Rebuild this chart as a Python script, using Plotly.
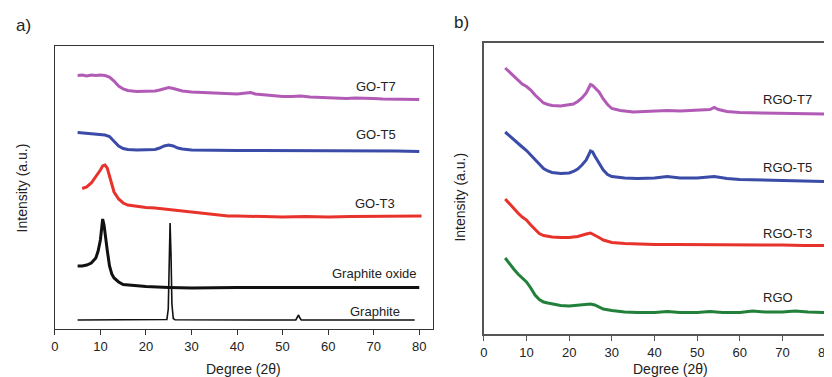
import plotly.graph_objects as go

# ---------------- Panel a (GO series) ----------------
got7_x = [5, 6, 7, 8, 9, 10, 11, 12, 13, 14, 15, 16, 18, 20, 22, 23, 24, 25, 26, 27, 28, 30, 32, 35, 38, 40,
          42, 43, 44, 46, 48, 50, 52, 54, 56, 58, 60, 62, 64, 66, 68, 70, 72, 74, 76, 78, 80]
got7_y = [253.5, 254, 253, 254, 253.5, 254, 253.5, 252, 248, 243, 240, 238.5, 237.5, 237.5, 238, 239, 240.5,
          241.5, 240.5, 239, 238, 237, 236.5, 236, 235.5, 235, 236, 236.5, 235, 234, 233, 232.5, 232.5, 233,
          232, 231.5, 231, 230.5, 230.5, 231, 231, 230.5, 230, 230, 230, 229.5, 229.5]

got5_x = [5, 6, 7, 8, 9, 10, 11, 12, 13, 14, 15, 16, 18, 20, 22, 23, 24, 25, 26, 27, 28, 30, 35, 40, 45, 50,
          55, 60, 65, 70, 75, 80]
got5_y = [196.5, 196, 195.5, 195, 195, 194.5, 194, 192.5, 188, 183, 180.5, 179.5, 179, 179, 179.5, 181, 183,
          184, 183, 181, 180, 179, 178.5, 178.5, 178.5, 178.5, 178.5, 178, 178.5, 178, 178, 177.5]

got3_x = [6, 7, 8, 9, 10, 10.5, 11, 11.5, 12, 12.5, 13, 14, 15, 16, 18, 20, 22, 25, 28, 30, 33, 35, 38, 40,
          45, 50, 55, 60, 65, 70, 75, 80.5]
got3_y = [140.5, 142, 146, 152, 159, 163, 164, 161, 153, 144, 137, 130, 126, 124, 122.5, 121.5, 121, 119.5,
          118, 116.5, 115, 114, 113, 113, 112.5, 112, 112.5, 112, 112.5, 112.5, 113, 113]

gox_x = [5, 6, 7, 8, 9, 9.5, 10, 10.3, 10.5, 10.8, 11, 11.5, 12, 12.5, 13, 14, 15, 17, 20, 25, 30, 40, 50,
         60, 70, 80]
gox_y = [63, 63, 64, 66, 71, 78, 89, 101, 110, 104, 96, 79, 63, 55, 51, 47, 44.5, 43.5, 42.5, 41.5, 41,
         41.5, 41.5, 42, 42, 41.5]

gr_x = [5, 24.6, 24.9, 25.1, 25.3, 25.5, 25.7, 26.0, 26.4, 52.9, 53.2, 53.5, 53.8, 54.1, 79]
gr_y = [9, 9.5, 20, 70, 106, 75, 25, 10.5, 9.2, 9, 11, 14, 11, 9, 9]

# ---------------- Panel b (RGO series) ----------------
rgot7_x = [5, 6, 7, 8, 9, 10, 11, 12, 13, 14, 15, 16, 18, 20, 21, 22, 23, 24, 25, 25.5, 26, 27, 28, 29, 30,
           32, 35, 38, 40, 43, 46, 50, 53, 54, 55, 57, 60, 65, 70, 75, 80]
rgot7_y = [266, 262, 258, 253, 250, 247.5, 244, 239, 234.5, 231, 229.5, 228.5, 228, 229, 230, 232.5, 236,
           241, 249.5, 248.5, 246, 242, 235, 229.5, 225.5, 223.5, 222, 222.5, 223.5, 223.5, 223, 223.5,
           224.5, 226.5, 224.5, 222.5, 221.5, 221, 220.5, 220.5, 220]

rgot5_x = [5, 6, 7, 8, 9, 10, 11, 12, 13, 14, 15, 16, 18, 20, 21, 22, 23, 24, 25, 25.5, 26, 27, 28, 29, 30,
           33, 36, 40, 43, 46, 50, 54, 57, 60, 65, 70, 75, 80]
rgot5_y = [202, 198, 194, 190, 187, 183.5, 179, 173.5, 169, 165.5, 163, 161.5, 160.5, 161, 162.5, 165, 169,
           174, 183, 182, 178, 171.5, 164, 159.5, 157.5, 156, 155.5, 156, 157.5, 156, 156, 157.5, 155.5,
           154.5, 154, 153.5, 153, 152.5]

rgot3_x = [5, 6, 7, 8, 9, 10, 11, 12, 13, 14, 15, 16, 18, 20, 22, 23, 24, 25, 26, 27, 28, 29, 30, 33, 36, 40,
           45, 50, 55, 60, 65, 70, 75, 80]
rgot3_y = [135, 130, 125, 121, 117, 114, 109, 104.5, 100.5, 98.5, 97.5, 97, 96.5, 96.5, 97.5, 99, 100, 101,
           99, 96.5, 94, 92.5, 91.5, 90.5, 90, 89.5, 89.5, 89.5, 89, 89, 89, 89, 88.5, 88.5]

rgo_x = [5, 6, 7, 8, 9, 10, 11, 12, 13, 14, 15, 16, 18, 20, 22, 24, 25, 26, 27, 28, 30, 33, 36, 40, 43, 46,
         50, 53, 56, 60, 63, 66, 70, 73, 76, 80]
rgo_y = [76, 70, 65, 60, 56, 52, 46, 39, 34.5, 32, 31, 30, 28.5, 28, 28.5, 29.5, 30, 29, 27, 25, 23.5, 22,
         21.5, 21.5, 22.5, 21.5, 21.5, 22.5, 21.5, 21.5, 23, 22, 22, 23, 22, 21.5]

x_ticks = [0, 10, 20, 30, 40, 50, 60, 70, 80]

PURPLE = "#B25BB6"
BLUE = "#3A4BA8"
RED = "#E8322C"
GREEN = "#23803A"
BLACK = "#111111"

FONT = "Liberation Sans, Arial, sans-serif"

W, H = 832, 377
OFF = 8  # page body margin offset


def px(X):
    return (X - OFF) / W


def py(Y):
    return 1 - (Y - OFF) / H


fig = go.Figure()


def add(x, y, color, xa, ya, width=3.0):
    fig.add_trace(go.Scatter(x=x, y=y, mode="lines", line=dict(color=color, width=width),
                             xaxis=xa, yaxis=ya, showlegend=False, hoverinfo="skip"))


add(got7_x, got7_y, PURPLE, "x", "y")
add(got5_x, got5_y, BLUE, "x", "y")
add(got3_x, got3_y, RED, "x", "y")
add(gox_x, gox_y, BLACK, "x", "y")
add(gr_x, gr_y, BLACK, "x", "y", width=1.6)

add(rgot7_x, rgot7_y, PURPLE, "x2", "y2")
add(rgot5_x, rgot5_y, BLUE, "x2", "y2")
add(rgot3_x, rgot3_y, RED, "x2", "y2")
add(rgo_x, rgo_y, GREEN, "x2", "y2")

axis_common = dict(showgrid=False, zeroline=False, ticks="outside", ticklen=5, tickwidth=1.3,
                   tickcolor="#333", linecolor="#333", linewidth=1.3, showline=True,
                   tickfont=dict(family=FONT, size=13, color="#222"))

fig.update_layout(
    width=W, height=H,
    margin=dict(l=0, r=0, t=0, b=0),
    paper_bgcolor="white", plot_bgcolor="white",
    xaxis=dict(domain=[px(51.3), px(434)], range=[0, 83.1], tickvals=x_ticks, mirror=True,
               anchor="y", **axis_common),
    yaxis=dict(domain=[py(329.3), py(45.7)], range=[-0.3, 283.3], showticklabels=False,
               showgrid=False, zeroline=False, showline=True, linecolor="#333", linewidth=1.3,
               mirror=True, ticks="", anchor="x"),
    xaxis2=dict(domain=[px(485), px(832)], range=[0, 80.46], tickvals=x_ticks, mirror=True,
                anchor="y2", **{**axis_common, "linecolor": "#555", "linewidth": 2, "tickcolor": "#555"}),
    yaxis2=dict(domain=[py(334.3), py(42.7)], range=[-0.3, 291.3], showticklabels=False,
                showgrid=False, zeroline=False, showline=True, linecolor="#555", linewidth=2,
                mirror=False, ticks="", anchor="x2"),
)


def ann(text, x, y, xref="paper", yref="paper", size=13, xanchor="center", **kw):
    fig.add_annotation(text=text, x=x, y=y, xref=xref, yref=yref, showarrow=False,
                       xanchor=xanchor, yanchor="middle",
                       font=dict(family=FONT, size=size, color="#222"), **kw)


# series labels (panel a)
ann("GO-T7", 70.5, 242.5, "x", "y")
ann("GO-T5", 70.5, 194, "x", "y")
ann("GO-T3", 70.3, 126, "x", "y")
ann("Graphite oxide", 70.1, 55.3, "x", "y")
ann("Graphite", 70.3, 17.6, "x", "y")

# series labels (panel b)
ann("RGO-T7", 65.0, 235, "x2", "y2", xanchor="left")
ann("RGO-T5", 65.0, 166.3, "x2", "y2", xanchor="left")
ann("RGO-T3", 65.0, 100.7, "x2", "y2", xanchor="left")
ann("RGO", 65.0, 36.3, "x2", "y2", xanchor="left")

# axis titles
ann("Degree (2θ)", px(242.5), py(368.5), size=14)
ann("Degree (2θ)", px(674), py(368.5), size=14)
ann("Intensity (a.u.)", px(18.5), py(188), size=14, textangle=-90)
ann("Intensity (a.u.)", px(460.5), py(197), size=14, textangle=-90)

# panel letters
ann("a)", px(20), py(26), size=17)
ann("b)", px(462), py(23), size=17)

fig.write_html("out.html")
